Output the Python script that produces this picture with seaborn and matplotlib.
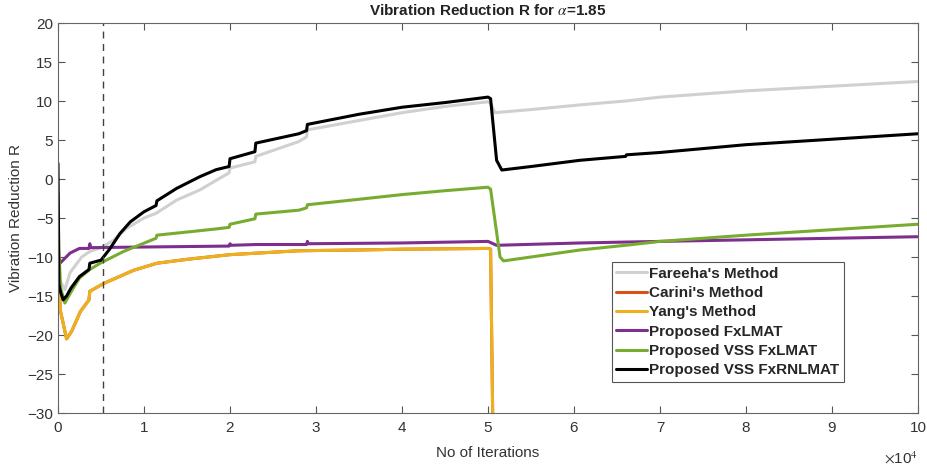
import numpy as np
import pandas as pd
import matplotlib
matplotlib.use("Agg")
import matplotlib.pyplot as plt
import seaborn as sns
from matplotlib.ticker import FuncFormatter

# ---------------- data ----------------
fareeha_x = [0, 200, 800, 1400, 2750, 3700, 5000, 6400, 8000, 10000, 11400, 13800, 16500,
             19900, 20000, 22900, 23000, 28000, 28900, 29000, 35000, 40000, 45000, 50000,
             50300, 50800, 55000, 60700, 66000, 70000, 80000, 90000, 100000]
fareeha_y = [-11, -13, -14.2, -12, -10, -9.3, -8.8, -7.9, -6.3, -5.0, -4.4, -2.7, -1.4,
             0.8, 1.4, 2.2, 2.9, 4.8, 5.4, 6.3, 7.5, 8.5, 9.3, 9.9,
             9.7, 8.5, 8.9, 9.5, 10.0, 10.5, 11.3, 11.9, 12.5]

yang_x = [0, 300, 1000, 1600, 2600, 3600, 3700, 5300, 8800, 11500, 15000, 20000, 28000,
          35000, 40000, 50000, 50300, 50600]
yang_y = [-12, -17, -20.5, -19.5, -17, -15.5, -14.4, -13.4, -11.7, -10.8, -10.3, -9.7, -9.2,
          -9.1, -9.0, -8.9, -9.0, -35]

carini_x = yang_x
carini_y = yang_y

fxlmat_x = [0, 230, 1400, 2500, 3600, 3700, 3800, 11500, 19900, 20000, 20100, 23000, 28900,
            29000, 29100, 40000, 50000, 51000, 60700, 70000, 80000, 90000, 100000]
fxlmat_y = [-9.5, -10.8, -9.5, -8.9, -8.9, -8.3, -8.8, -8.7, -8.6, -8.3, -8.5, -8.4, -8.4,
            -8.0, -8.3, -8.2, -8.0, -8.5, -8.2, -8.0, -7.8, -7.6, -7.4]

vss_x = [0, 100, 300, 800, 1500, 2500, 3700, 4900, 7600, 11400, 11500, 15000, 18400, 19900,
         20000, 22900, 23000, 28000, 28900, 29000, 35000, 40000, 45000, 50000, 50300, 51400,
         51800, 55000, 60700, 66000, 70000, 80000, 90000, 100000]
vss_y = [-1.8, -9, -14, -15.9, -14.5, -12.7, -11.6, -10.8, -9.3, -7.6, -7.2, -6.8, -6.4, -6.2,
         -5.8, -5.1, -4.5, -4.0, -3.7, -3.3, -2.6, -2.0, -1.5, -1.05, -1.3, -10.0,
         -10.5, -10.0, -9.1, -8.5, -8.0, -7.2, -6.5, -5.8]

rnl_x = [0, 100, 300, 600, 1000, 1500, 2500, 3600, 3700, 5000, 6000, 7200, 8400, 10000,
         11400, 11500, 13800, 16500, 18400, 19900, 20000, 22900, 23000, 28000, 28900, 29000,
         35000, 40000, 45000, 50000, 50300, 51000, 51600, 55000, 60700, 66000, 66100, 70000,
         80000, 90000, 100000]
rnl_y = [2, -13.5, -14.5, -15.5, -15.0, -14, -12.5, -11.6, -10.8, -10.4, -9, -7, -5.5, -4.2,
         -3.4, -2.8, -1.2, 0.3, 1.2, 1.6, 2.6, 3.5, 4.6, 5.8, 6.2, 7.0,
         8.3, 9.2, 9.8, 10.5, 10.3, 2.4, 1.15, 1.6, 2.4, 2.9, 3.1, 3.4,
         4.4, 5.1, 5.8]

marker_iter = 5200
title_text = r"Vibration Reduction R for $\alpha$=1.85"
xlabel_text = "No of Iterations"
ylabel_text = "Vibration Reduction R"
x_scale_text = r"$\times$10$^{4}$"

series = [
    ("Fareeha's Method", fareeha_x, fareeha_y, "#D0D0D0"),
    ("Carini's Method", carini_x, carini_y, "#D95319"),
    ("Yang's Method", yang_x, yang_y, "#EDB120"),
    ("Proposed FxLMAT", fxlmat_x, fxlmat_y, "#7E2F8E"),
    ("Proposed VSS FxLMAT", vss_x, vss_y, "#77AC30"),
    ("Proposed VSS FxRNLMAT", rnl_x, rnl_y, "#000000"),
]

# ---------------- plot ----------------
sns.set_theme(style="ticks")
plt.rcParams["font.family"] = ["Liberation Sans", "DejaVu Sans"]
plt.rcParams["mathtext.fontset"] = "stix"

fig = plt.figure(figsize=(9.27, 4.65), dpi=100)
ax = fig.add_axes([58 / 927, 1 - 413 / 465, 860 / 927, 390 / 465])

for name, xs, ys, col in series:
    sns.lineplot(x=xs, y=ys, ax=ax, color=col, label=name, linewidth=2.2,
                 estimator=None, sort=False)

ax.axvline(marker_iter, color="#404040", linestyle=(0, (5, 4)), linewidth=1.0)

ax.set_xlim(0, 100000)
ax.set_ylim(-30, 20)
ax.set_xticks(np.arange(0, 100001, 10000))
ax.set_yticks(np.arange(-30, 21, 5))
ax.xaxis.set_major_formatter(FuncFormatter(lambda v, p: f"{v / 1e4:g}"))
ax.text(1.0, -0.095, x_scale_text, transform=ax.transAxes, ha="right", va="top",
        fontsize=11, color="#333333")

ax.tick_params(direction="in", top=True, right=True, length=5, width=0.8,
               colors="#555555", labelcolor="#333333", labelsize=11)
ax.tick_params(axis="x", pad=6)
for sp in ax.spines.values():
    sp.set_color("#666666")
    sp.set_linewidth(0.8)

ax.set_title(title_text, fontsize=11, fontweight="bold", color="#222222", pad=6)
ax.set_xlabel(xlabel_text, fontsize=11, color="#333333", labelpad=8)
ax.set_ylabel(ylabel_text, fontsize=11, color="#333333", labelpad=3)

leg = ax.legend(loc="upper left", bbox_to_anchor=(0.644, 0.387), frameon=True,
                fancybox=False, edgecolor="#555555", framealpha=1,
                prop={"weight": "bold", "size": 11}, handlelength=2.0,
                handletextpad=0.15, labelspacing=0.35, borderpad=0.3,
                borderaxespad=0)
leg.get_frame().set_linewidth(0.8)

fig.savefig("out.png", dpi=100)
